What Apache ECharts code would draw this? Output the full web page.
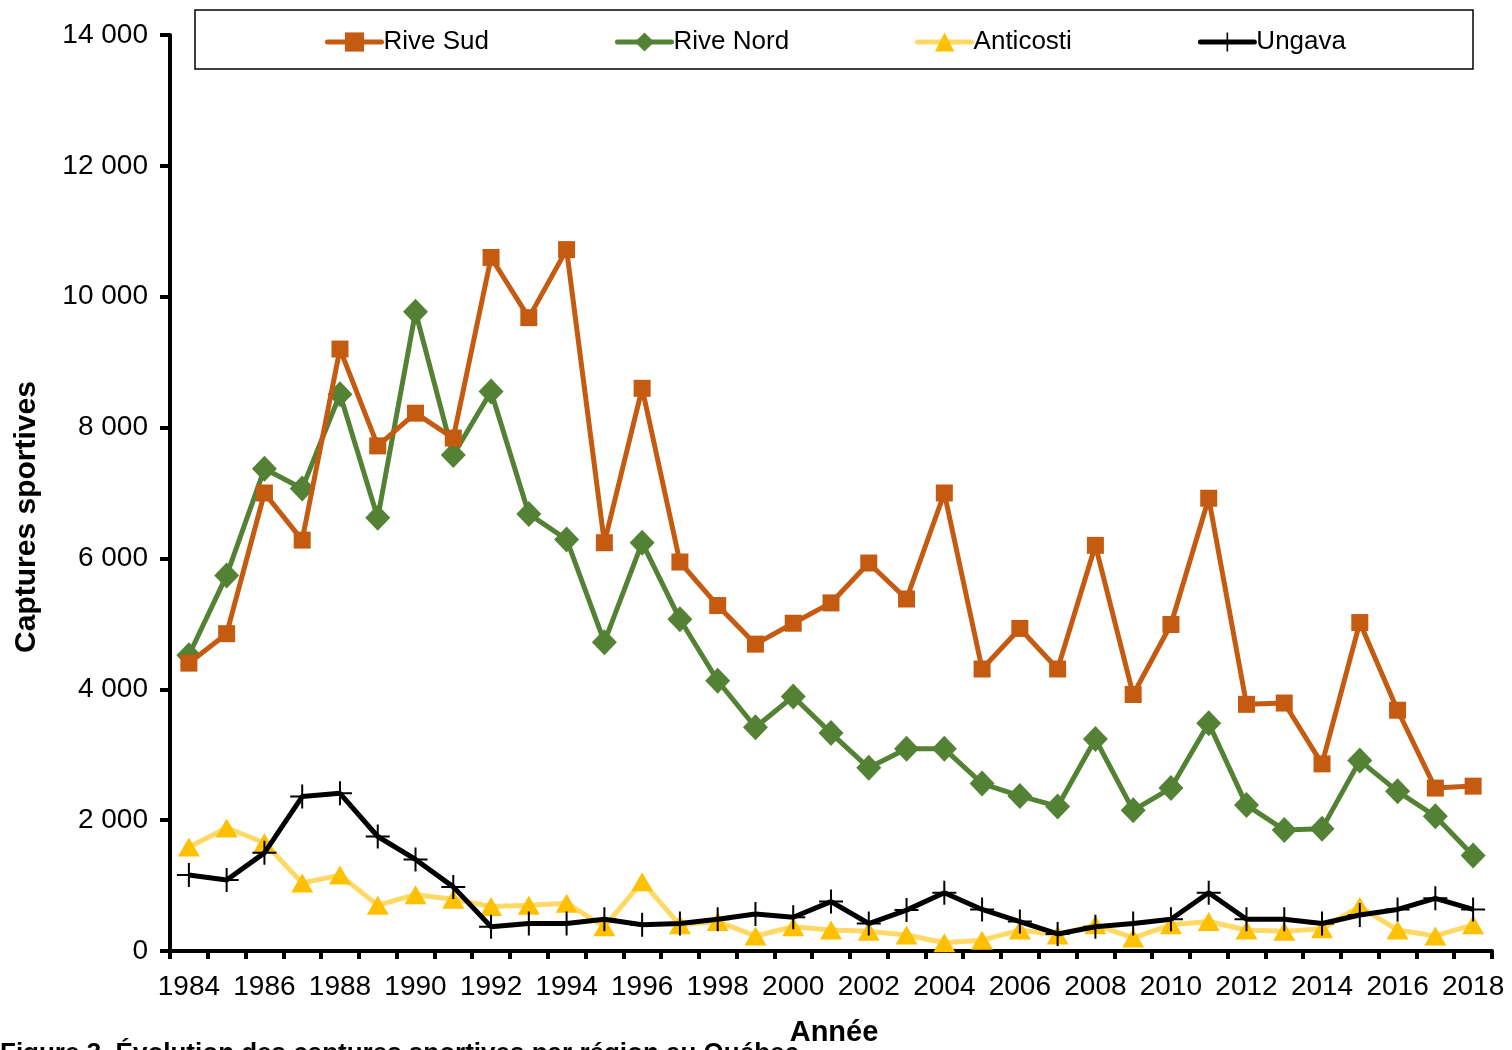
<!DOCTYPE html>
<html>
<head>
<meta charset="utf-8">
<script src="https://cdn.jsdelivr.net/npm/echarts@6/dist/echarts.min.js"></script>
<style>
html,body{margin:0;padding:0;background:#fff;}
#chart{width:1512px;height:1050px;}
</style>
</head>
<body>
<div id="chart"></div>
<script>
const years = ['1984','1985','1986','1987','1988','1989','1990','1991','1992','1993','1994','1995','1996','1997','1998','1999','2000','2001','2002','2003','2004','2005','2006','2007','2008','2009','2010','2011','2012','2013','2014','2015','2016','2017','2018'];
const riveSud = [4400,4850,7000,6280,9200,7720,8220,7840,10600,9680,10720,6240,8600,5945,5280,4690,5010,5320,5930,5380,7000,4310,4930,4310,6200,3920,4990,6920,3770,3790,2860,5020,3680,2490,2520];
const riveNord = [4520,5740,7370,7070,8510,6620,9770,7580,8550,6680,6290,4720,6240,5070,4130,3420,3890,3330,2800,3090,3090,2560,2370,2210,3240,2150,2490,3480,2230,1850,1870,2910,2440,2060,1460];
const anticosti = [1590,1880,1655,1040,1160,700,860,790,680,700,730,370,1060,400,450,230,370,320,300,245,125,165,320,245,400,200,400,450,320,300,340,680,320,230,400];
const ungava = [1160,1085,1500,2360,2410,1750,1400,980,370,420,420,485,400,420,485,565,515,755,420,625,890,635,450,260,370,420,485,890,485,485,420,550,635,805,635];
const seriesNames = ['Rive Sud','Rive Nord','Anticosti','Ungava'];
const yTicks = {min:0, max:14000, interval:2000};

const FONT = 'Liberation Sans, Arial, sans-serif';
const plusPath = 'path://M-1,-12 L1,-12 L1,-1 L12,-1 L12,1 L1,1 L1,12 L-1,12 L-1,1 L-12,1 L-12,-1 L-1,-1 Z';

const chart = echarts.init(document.getElementById('chart'), null, {renderer:'canvas'});
const option = {
  backgroundColor:'#fff',
  animation:false,
  grid:{left:170, right:20, top:35, bottom:99, containLabel:false, outerBoundsMode:'none'},
  legend:{
    left:320, top:24, itemWidth:54, itemHeight:24, itemGap:126,
    textStyle:{fontFamily:FONT, fontSize:26, color:'#000', padding:[0,0,0,-3]},
    lineStyle:{width:5, cap:'round'},
    data:seriesNames
  },
  graphic:[
    {type:'rect', shape:{x:195, y:10, width:1278, height:59}, style:{fill:'none', stroke:'#000', lineWidth:1.5}, z:1},
    {type:'text', x:27, y:517, rotation:Math.PI/2,
      style:{text:'Captures sportives', font:'bold 30px '+FONT, fill:'#000', align:'center', verticalAlign:'middle'}},
    {type:'text', x:834, y:1033, style:{text:'Année', font:'bold 29px '+FONT, fill:'#000', align:'center', verticalAlign:'middle'}},
    {type:'text', x:0, y:1041, style:{text:'Figure 3. Évolution des captures sportives par région au Québec', font:'bold 26px '+FONT, fill:'#000'}}
  ],
  xAxis:{
    type:'category', data:years, boundaryGap:true,
    axisLine:{show:true, lineStyle:{color:'#000', width:4}},
    axisTick:{show:true, interval:0, length:8, lineStyle:{color:'#000', width:4}},
    axisLabel:{interval:1, color:'#000', fontFamily:FONT, fontSize:28, margin:22},
    splitLine:{show:false}
  },
  yAxis:{
    type:'value', min:yTicks.min, max:yTicks.max, interval:yTicks.interval,
    axisLine:{show:true, lineStyle:{color:'#000', width:4}},
    axisTick:{show:true, length:10, lineStyle:{color:'#000', width:4}},
    axisLabel:{color:'#000', fontFamily:FONT, fontSize:28, margin:22,
      formatter:v=>String(v).replace(/\B(?=(\d{3})+(?!\d))/g,' ')},
    splitLine:{show:false}
  },
  series:[
    {name:seriesNames[0], type:'line', data:riveSud, symbol:'rect', symbolSize:17, showAllSymbol:true,
      itemStyle:{color:'#C55A11'}, lineStyle:{color:'#C55A11', width:5}, z:4},
    {name:seriesNames[1], type:'line', data:riveNord, symbol:'diamond', symbolSize:[25,26], showAllSymbol:true,
      itemStyle:{color:'#548235'}, lineStyle:{color:'#548235', width:5}, z:3},
    {name:seriesNames[2], type:'line', data:anticosti, symbol:'triangle', symbolSize:[22,19], showAllSymbol:true,
      itemStyle:{color:'#FFC000'}, lineStyle:{color:'#FFD966', width:5}, z:2},
    {name:seriesNames[3], type:'line', data:ungava, symbol:plusPath, symbolSize:24, symbolKeepAspect:true, showAllSymbol:true,
      itemStyle:{color:'#000'}, lineStyle:{color:'#000', width:5}, z:5}
  ]
};
chart.setOption(option);
</script>
</body>
</html>
